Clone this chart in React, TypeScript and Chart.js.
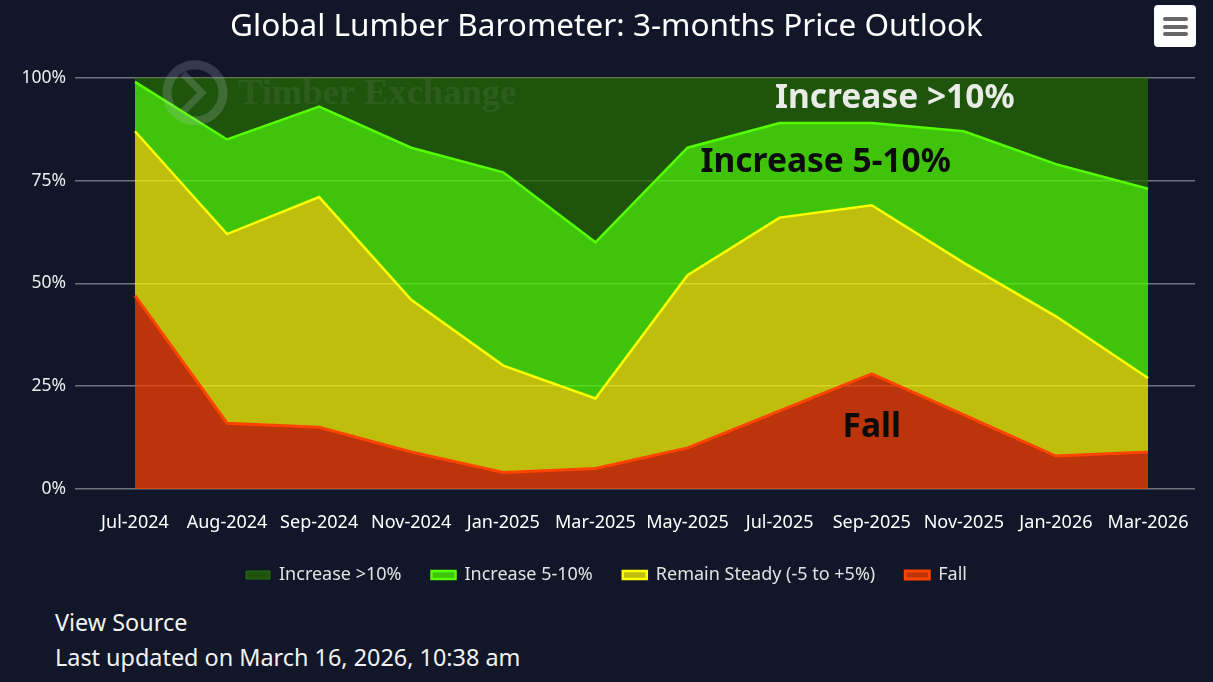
import React, { useEffect, useRef } from "react";
import { Chart, registerables } from "chart.js";

Chart.register(...registerables);

const categories = [
  "Jul-2024", "Aug-2024", "Sep-2024", "Nov-2024", "Jan-2025", "Mar-2025",
  "May-2025", "Jul-2025", "Sep-2025", "Nov-2025", "Jan-2026", "Mar-2026",
];
const fall = [47, 16, 15, 9, 4, 5, 10, 19, 28, 18, 8, 9];
const remainSteady = [40, 46, 56, 37, 26, 17, 42, 47, 41, 37, 34, 18];
const increase5to10 = [12, 23, 22, 37, 47, 38, 31, 23, 20, 32, 37, 46];
const increaseOver10 = [1, 15, 7, 17, 23, 40, 17, 11, 11, 13, 21, 27];
const yTicks = [0, 25, 50, 75, 100];

const areaLabels = [
  { text: "Increase >10%", x: 8.25, y: 95, color: "#e9ebe6" },
  { text: "Increase 5-10%", x: 7.5, y: 79.3, color: "#0b0b0b" },
  { text: "Fall", x: 8.0, y: 14.9, color: "#0b0b0b" },
];

const BG = "#111729";
const FONT = "'Noto Sans', 'Open Sans', sans-serif";

const areaLabelPlugin = {
  id: "areaLabels",
  afterDatasetsDraw(chart: any) {
    const { ctx, scales } = chart;
    ctx.save();
    ctx.font = `bold 33.5px ${FONT}`;
    ctx.textAlign = "center";
    ctx.textBaseline = "middle";
    for (const a of areaLabels) {
      ctx.fillStyle = a.color;
      ctx.fillText(a.text, scales.x.getPixelForValue(a.x), scales.y.getPixelForValue(a.y));
    }
    ctx.restore();
  },
};

const watermarkPlugin = {
  id: "watermark",
  afterDatasetsDraw(chart: any) {
    const { ctx, chartArea } = chart;
    const cx = chartArea.left + 120;
    const cy = chartArea.top + 15;
    ctx.save();
    ctx.strokeStyle = "rgba(200,205,220,0.2)";
    ctx.lineWidth = 9;
    ctx.beginPath();
    ctx.arc(cx, cy, 28, 0, Math.PI * 2);
    ctx.stroke();
    ctx.lineWidth = 7;
    ctx.beginPath();
    ctx.moveTo(cx - 12, cy - 19);
    ctx.lineTo(cx + 7, cy);
    ctx.lineTo(cx - 12, cy + 19);
    ctx.stroke();
    ctx.fillStyle = "rgba(220,225,235,0.08)";
    ctx.font = "bold 36.5px 'Liberation Serif', 'DejaVu Serif', serif";
    ctx.textAlign = "left";
    ctx.textBaseline = "alphabetic";
    ctx.fillText("Timber Exchange", cx + 43, cy + 11);
    ctx.restore();
  },
};

const series = [
  { label: "Fall", data: fall, line: "#ff4400", fill: "rgba(244,63,1,0.75)", width: 3 },
  { label: "Remain Steady (-5 to +5%)", data: remainSteady, line: "#ffff00", fill: "rgba(249,247,4,0.75)", width: 2.5 },
  { label: "Increase 5-10%", data: increase5to10, line: "#55ff00", fill: "rgba(79,254,1,0.75)", width: 2.5 },
  { label: "Increase >10%", data: increaseOver10, line: "#2a6e0e", fill: "rgba(36,106,4,0.75)", width: 1 },
];

export default function App() {
  const ref = useRef<HTMLCanvasElement | null>(null);

  useEffect(() => {
    document.body.style.margin = "0";
    document.body.style.background = BG;
    const chart = new Chart(ref.current as HTMLCanvasElement, {
      type: "line",
      data: {
        datasets: series.map((s, i) => ({
          label: s.label,
          data: s.data.map((v, j) => ({ x: j, y: v })),
          borderColor: s.line,
          backgroundColor: s.fill,
          borderWidth: s.width,
          fill: i === 0 ? "origin" : "-1",
          pointRadius: 0,
          tension: 0,
        })),
      },
      options: {
        animation: false,
        responsive: false,
        layout: { padding: { left: 18, right: 18, top: 0, bottom: 6 } },
        plugins: {
          title: {
            display: true,
            text: "Global Lumber Barometer: 3-months Price Outlook",
            color: "#ffffff",
            font: { family: FONT, size: 31.5, weight: "normal" },
            padding: { top: 8, bottom: 32 },
          },
          legend: {
            position: "bottom",
            reverse: true,
            labels: {
              color: "#e2e2e2",
              font: { family: FONT, size: 18 },
              boxWidth: 24,
              boxHeight: 8,
              padding: 30,
            },
          },
          tooltip: { enabled: false },
        },
        scales: {
          x: {
            type: "linear",
            min: -0.651,
            max: 11.51,
            grid: { display: false },
            border: { display: false },
            afterBuildTicks: (s: any) => {
              s.ticks = categories.map((_, i) => ({ value: i }));
            },
            afterFit: (s: any) => {
              s.height = 47;
            },
            ticks: {
              color: "#ffffff",
              font: { family: FONT, size: 18 },
              padding: 15,
              maxRotation: 0,
              autoSkip: false,
              callback: (v: any) => categories[v as number],
            },
          },
          y: {
            stacked: true,
            min: 0,
            max: 100,
            afterBuildTicks: (s: any) => {
              s.ticks = yTicks.map((v) => ({ value: v }));
            },
            afterFit: (s: any) => {
              s.width = 57;
            },
            grid: { color: "#6f737d", lineWidth: 1.5, drawTicks: false },
            border: { display: false },
            ticks: {
              color: "#ececec",
              font: { family: FONT, size: 17.5 },
              padding: 9,
              callback: (v: any) => `${v}%`,
            },
          },
        },
      },
      plugins: [watermarkPlugin, areaLabelPlugin],
    } as any);
    return () => chart.destroy();
  }, []);

  return (
    <div style={{ position: "relative", width: 1213, height: 682, background: BG, fontFamily: FONT, overflow: "hidden" }}>
      <canvas ref={ref} width={1213} height={600} style={{ position: "absolute", left: 0, top: 0 }} />
      <div
        style={{
          position: "absolute", left: 1154, top: 5, width: 42, height: 42,
          background: "#ffffff", borderRadius: 4,
        }}
      >
        {[12, 19.5, 27].map((t) => (
          <div key={t} style={{ position: "absolute", left: 9, top: t, width: 25, height: 4, borderRadius: 2, background: "#666666" }} />
        ))}
      </div>
      <div style={{ position: "absolute", left: 55, top: 606, color: "#f2f2f2", fontSize: 23.4 }}>View Source</div>
      <div style={{ position: "absolute", left: 55, top: 641, color: "#f2f2f2", fontSize: 23.4 }}>
        Last updated on March 16, 2026, 10:38 am
      </div>
    </div>
  );
}
